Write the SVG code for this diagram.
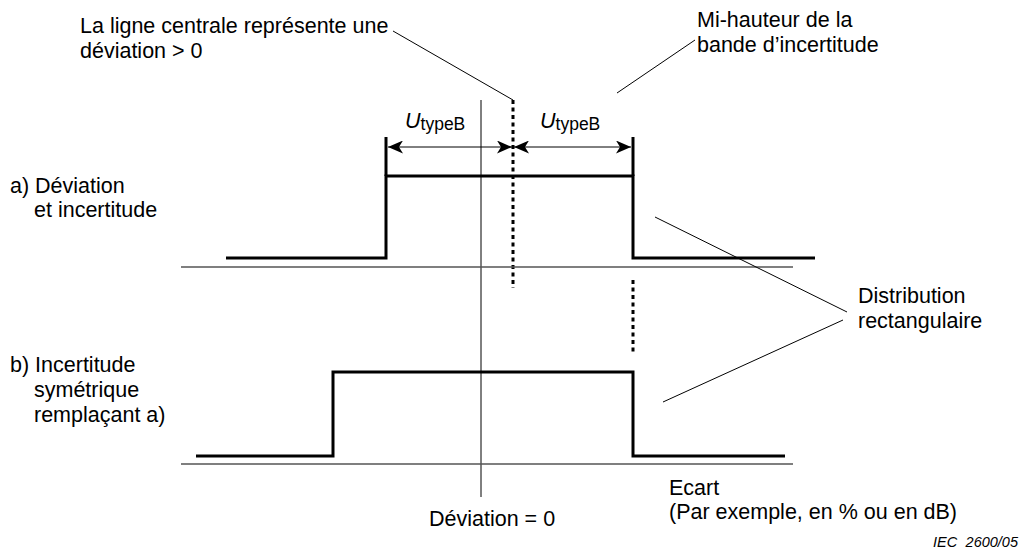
<svg xmlns="http://www.w3.org/2000/svg" width="1023" height="551" viewBox="0 0 1023 551">
<style>
text{font-family:"Liberation Sans",Arial,sans-serif;font-size:21.5px;fill:#000}
.thin{stroke:#000;stroke-width:1;fill:none}
.axis{stroke:#555;stroke-width:1.5;fill:none}
.thick{stroke:#000;stroke-width:3;fill:none}
.dot{stroke:#000;stroke-width:3;stroke-dasharray:4 3.5;fill:none}
.sub{font-size:17.5px}
.iec{font-size:14.5px;font-style:italic}
</style>
<defs>
<marker id="ah" viewBox="0 0 15 13" refX="15" refY="6.5" markerWidth="15" markerHeight="13" markerUnits="userSpaceOnUse" orient="auto">
<path d="M0,0 L15,6.5 L0,13 L4,6.5 Z" fill="#000"/>
</marker>
</defs>
<rect width="1023" height="551" fill="#fff"/>
<g id="connectors">
<line class="thin" x1="481" y1="100" x2="481" y2="497"/>
<line class="dot" x1="513" y1="100" x2="513" y2="288"/>
<line class="dot" x1="633" y1="280" x2="633" y2="352"/>
<line class="axis" x1="181" y1="267" x2="793" y2="267"/>
<line class="axis" x1="181" y1="464" x2="793" y2="464"/>
<line class="thin" x1="393" y1="31" x2="513" y2="100"/>
<line class="thin" x1="695" y1="40" x2="617" y2="93"/>
<line class="thin" x1="655" y1="217" x2="847" y2="312"/>
<line class="thin" x1="843" y1="320" x2="663" y2="402"/>
<line class="thin" x1="450" y1="147" x2="388" y2="147" marker-end="url(#ah)"/>
<line class="thin" x1="450" y1="147" x2="512" y2="147" marker-end="url(#ah)"/>
<line class="thin" x1="575" y1="147" x2="514" y2="147" marker-end="url(#ah)"/>
<line class="thin" x1="575" y1="147" x2="631" y2="147" marker-end="url(#ah)"/>
</g>
<g id="curve-a">
<polyline class="thick" points="226,258 386,258 386,176 633,176 633,258 815,258"/>
<line class="thick" x1="386" y1="137" x2="386" y2="176"/>
<line class="thick" x1="633" y1="137" x2="633" y2="176"/>
</g>
<g id="curve-b">
<polyline class="thick" points="196,456 333,456 333,372 633,372 633,456 785,456"/>
</g>
<g id="label-top-left">
<text x="80" y="33">La ligne centrale représente une</text>
<text x="80" y="58">déviation &gt; 0</text>
</g>
<g id="label-top-right">
<text x="697" y="27">Mi-hauteur de la</text>
<text x="697" y="52">bande d’incertitude</text>
</g>
<g id="label-u1"><text x="405" y="128"><tspan font-style="italic">U</tspan><tspan class="sub" dy="2">typeB</tspan></text></g>
<g id="label-u2"><text x="540" y="128"><tspan font-style="italic">U</tspan><tspan class="sub" dy="2">typeB</tspan></text></g>
<g id="label-a">
<text x="10" y="193">a) Déviation</text>
<text x="34" y="217">et incertitude</text>
</g>
<g id="label-b">
<text x="10" y="372">b) Incertitude</text>
<text x="34" y="397">symétrique</text>
<text x="34" y="422">remplaçant a)</text>
</g>
<g id="label-dist">
<text x="858" y="303">Distribution</text>
<text x="858" y="328">rectangulaire</text>
</g>
<g id="label-dev0"><text x="429" y="526">Déviation = 0</text></g>
<g id="label-ecart">
<text x="669" y="495">Ecart</text>
<text x="669" y="519">(Par exemple, en % ou en dB)</text>
</g>
<g id="label-iec"><text class="iec" y="547"><tspan x="933">IEC</tspan><tspan x="1018" text-anchor="end">2600/05</tspan></text></g>
</svg>
